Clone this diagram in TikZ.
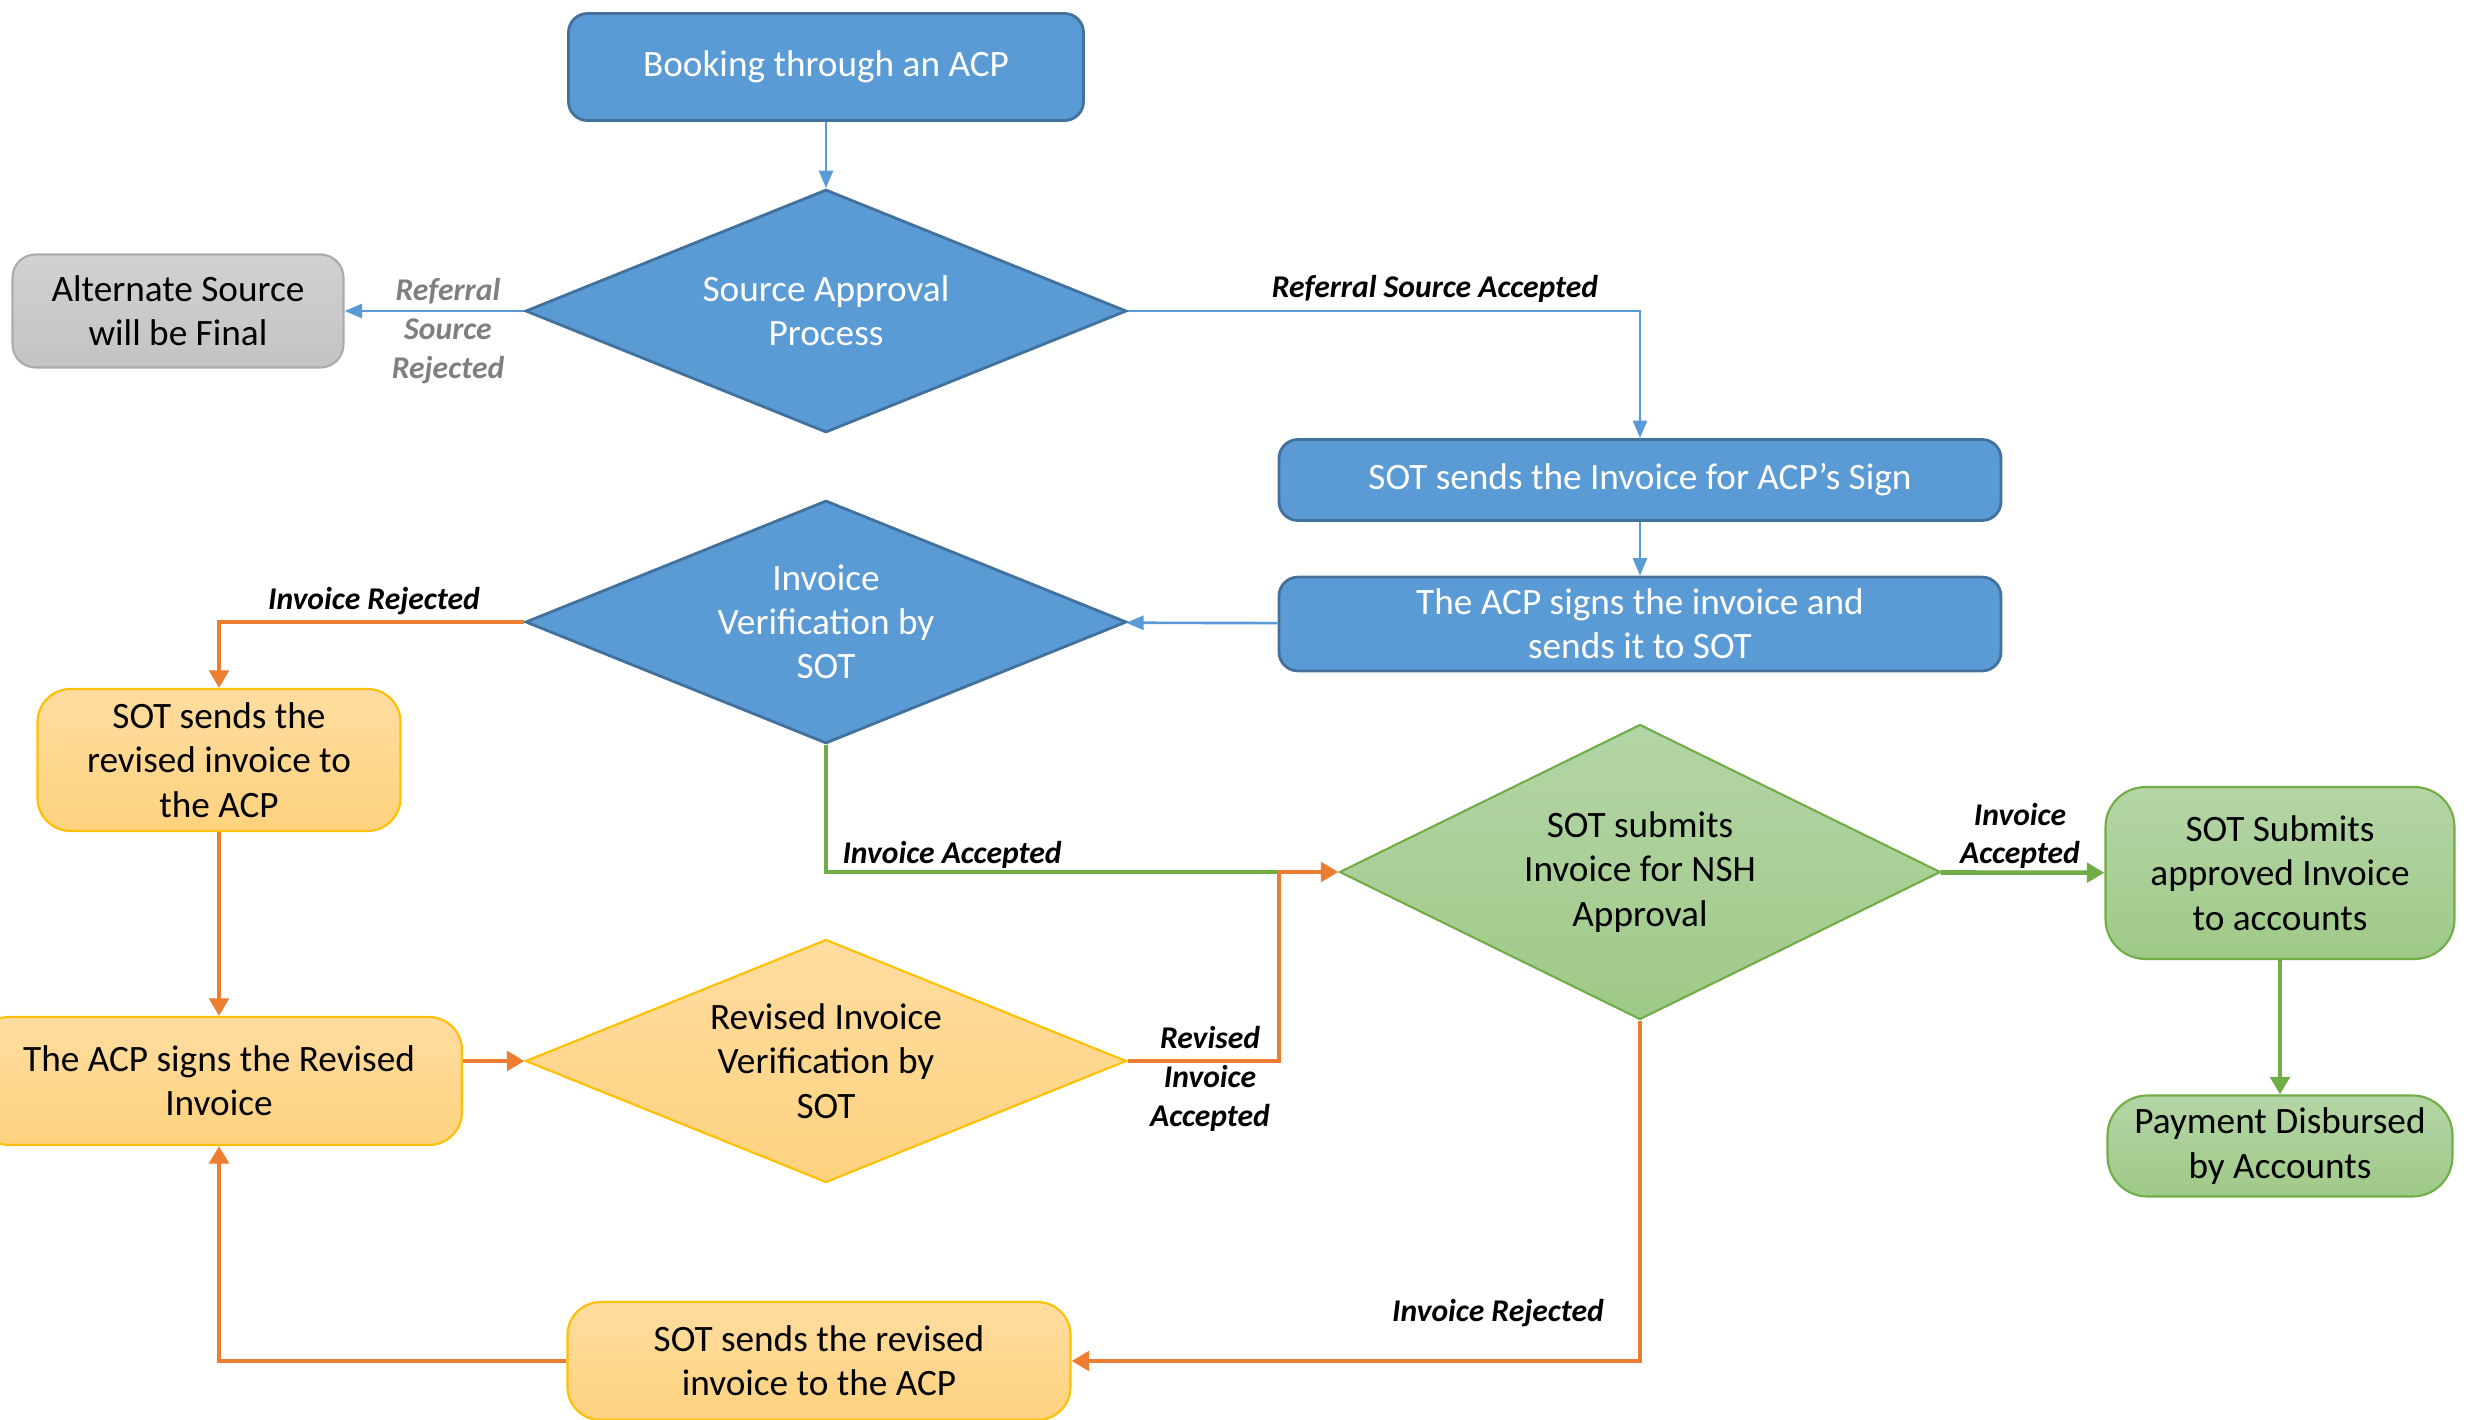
\documentclass[tikz,border=0pt]{standalone}
\usepackage{fontspec}
\setmainfont{Carlito}
\usetikzlibrary{shapes.geometric}
\usetikzlibrary{arrows.meta}

\definecolor{boxblue}{HTML}{5B9BD5}
\definecolor{boxblueline}{HTML}{41719C}
\definecolor{linkorange}{HTML}{ED7D31}
\definecolor{linkgreen}{HTML}{70AD47}
\definecolor{boxgold}{HTML}{FFC000}
\definecolor{goldtop}{HTML}{FFDCA0}
\definecolor{goldbottom}{HTML}{FED27E}
\definecolor{greentop}{HTML}{B4D5A6}
\definecolor{greenbottom}{HTML}{9FC988}
\definecolor{graytop}{HTML}{D1D1D1}
\definecolor{graybottom}{HTML}{C3C3C3}
\definecolor{grayline}{HTML}{ABABAB}
\definecolor{labelgray}{HTML}{7F7F7F}

\tikzset{
  boxfont/.style = {font = \fontsize{10.6}{12.6}\selectfont},
  bluebox/.style = {rectangle, rounded corners = 0.19cm, draw = boxblueline,
    line width = 0.8pt, fill = boxblue, text = white},
  graybox/.style = {rectangle, rounded corners = 0.23cm, draw = grayline,
    line width = 0.6pt, top color = graytop, bottom color = graybottom},
  orangebox/.style = {rectangle, rounded corners = 0.33cm, draw = boxgold,
    line width = 0.6pt, top color = goldtop, bottom color = goldbottom},
  greenbox/.style = {rectangle, rounded corners = 0.4cm, draw = linkgreen,
    line width = 0.6pt, top color = greentop, bottom color = greenbottom},
  bluediamond/.style = {diamond, aspect = 2.47, inner sep = 0,
    draw = boxblueline, line width = 0.8pt, fill = boxblue, text = white},
  orangediamond/.style = {diamond, aspect = 2.47, inner sep = 0,
    draw = boxgold, line width = 0.6pt, top color = goldtop, bottom color = goldbottom},
  greendiamond/.style = {diamond, aspect = 2.04, inner sep = 0,
    draw = linkgreen, line width = 0.6pt, top color = greentop, bottom color = greenbottom},
  flowlabel/.style = {font = \fontsize{9}{11}\selectfont\bfseries\itshape, align = center},
  blueline/.style = {draw = boxblue, line width = 0.75pt,
    -{Triangle[length = 5pt, width = 4pt]}},
  orangeline/.style = {draw = linkorange, line width = 1.3pt,
    -{Triangle[length = 5pt, width = 5.5pt]}},
  greenpath/.style = {draw = linkgreen, line width = 1.3pt},
  greenline/.style = {greenpath, -{Triangle[length = 5pt, width = 5.5pt]}}
}

\begin{document}
\begin{tikzpicture}[every node/.style = {boxfont, align = center}]
  \useasboundingbox (0, 0) rectangle (24.73, -14.20);

  \node[bluebox, minimum width = 5.15cm, minimum height = 1.07cm] (book)
  at (8.26, -0.67) {Booking through an ACP};
  \node[bluediamond, minimum width = 6.01cm, minimum height = 2.43cm] (sap)
  at (8.26, -3.11) {Source Approval\\Process};
  \node[graybox, minimum width = 3.31cm, minimum height = 1.13cm] (alt)
  at (1.78, -3.11) {Alternate Source\\will be Final};
  \node[bluebox, minimum width = 7.22cm, minimum height = 0.81cm] (sotinv)
  at (16.40, -4.80) {SOT sends the Invoice for ACP’s Sign};
  \node[bluebox, minimum width = 7.22cm, minimum height = 0.88cm] (acpsign)
  at (16.40, -6.24) {The ACP signs the invoice and\\sends it to SOT};
  \node[bluediamond, minimum width = 6.01cm, minimum height = 2.43cm] (ivs)
  at (8.26, -6.22) {Invoice\\Verification by\\SOT};

  \node[orangebox, minimum width = 3.63cm, minimum height = 1.42cm] (revl)
  at (2.19, -7.60) {SOT sends the\\revised invoice to\\the ACP};
  \node[orangebox, minimum width = 4.86cm, minimum height = 1.28cm] (acprev)
  at (2.19, -10.81) {The ACP signs the Revised\\Invoice};
  \node[orangediamond, minimum width = 6.01cm, minimum height = 2.43cm] (riv)
  at (8.26, -10.61) {Revised Invoice\\Verification by\\SOT};
  \node[orangebox, minimum width = 5.03cm, minimum height = 1.18cm] (revb)
  at (8.19, -13.61) {SOT sends the revised\\invoice to the ACP};

  \node[greendiamond, minimum width = 6.01cm, minimum height = 2.95cm] (nsh)
  at (16.40, -8.72) {SOT submits\\Invoice for NSH\\Approval};
  \node[greenbox, minimum width = 3.49cm, minimum height = 1.72cm] (subm)
  at (22.80, -8.73) {SOT Submits\\approved Invoice\\to accounts};
  \node[greenbox, minimum width = 3.45cm, minimum height = 1.01cm] (pay)
  at (22.80, -11.46) {Payment Disbursed\\by Accounts};

  \draw[blueline] (book) -- (sap);
  \draw[blueline] (sap) -- (alt);
  \draw[blueline] (sap.east) -| (sotinv.north);
  \draw[blueline] (sotinv) -- (acpsign);
  \draw[blueline] (acpsign) -- (ivs);

  \draw[orangeline] (ivs.west) -| (revl.north);
  \draw[orangeline] (revl) -- (acprev);
  \draw[orangeline] (riv.west -| acprev.east) -- (riv.west);

  \coordinate (join) at (12.79, -8.72);
  \draw[greenpath] (ivs.south) |- (join);
  \draw[orangeline] (riv.east) -| (join) -- (nsh.west);
  \draw[greenline] (nsh) -- (subm);
  \draw[greenline] (subm) -- (pay);
  \draw[orangeline] (nsh.south) |- (revb.east);
  \draw[orangeline] (revb.west) -| (acprev.south);

  \node[flowlabel, text = labelgray] (srcrej) at (4.48, -3.31)
  {Referral\\Source\\Rejected};
  \node[flowlabel] (srcacc) at (14.35, -2.89) {Referral Source Accepted};
  \node[flowlabel] (invrej) at (3.74, -6.01) {Invoice Rejected};
  \node[flowlabel] (invacc) at (9.52, -8.55) {Invoice Accepted};
  \node[flowlabel] (nshacc) at (20.20, -8.36) {Invoice\\Accepted};
  \node[flowlabel] (revacc) at (12.10, -10.79) {Revised\\Invoice\\Accepted};
  \node[flowlabel] (nshrej) at (14.98, -13.13) {Invoice Rejected};
\end{tikzpicture}
\end{document}
